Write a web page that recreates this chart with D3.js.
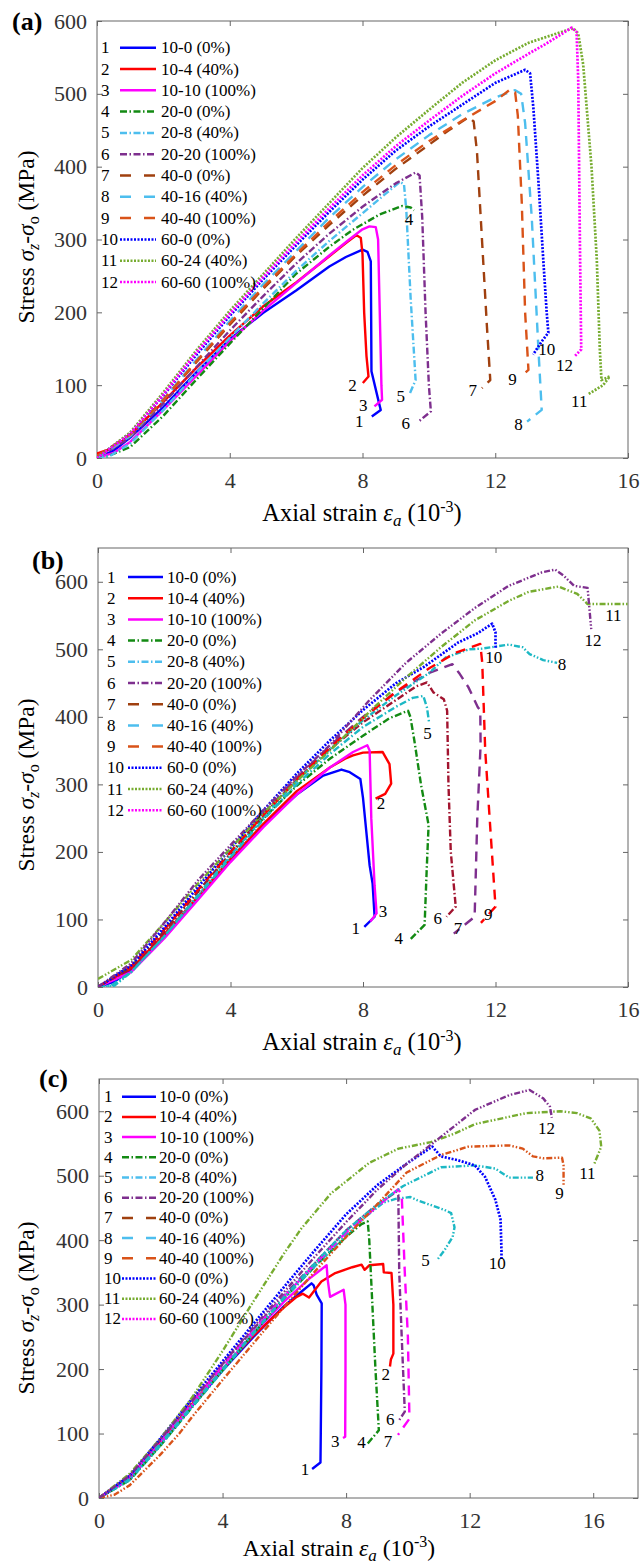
<!DOCTYPE html>
<html>
<head>
<meta charset="utf-8">
<script src="https://cdn.jsdelivr.net/npm/d3@7"></script>
<style>
  body { margin: 0; background: #fff; }
  svg text { font-family: "Liberation Serif", "Times New Roman", serif; }
</style>
</head>
<body>
<svg id="chart" width="641" height="1564"></svg>
<script>
// Stress-strain curves, three panels (a)(b)(c), 12 specimens each

const legendNames = ['10-0 (0%)', '10-4 (40%)', '10-10 (100%)', '20-0 (0%)', '20-8 (40%)', '20-20 (100%)',
  '40-0 (0%)', '40-16 (40%)', '40-40 (100%)', '60-0 (0%)', '60-24 (40%)', '60-60 (100%)'];
const xTicks = [0, 4, 8, 12, 16];
const yTicks = [0, 100, 200, 300, 400, 500, 600];

// panel (a): [axial strain (1e-3), stress (MPa)]
const seriesA = [
  [[0,0],[0.5,10],[1,28],[2,70],[3,118],[4,163],[5,199],[6,230],[7,263],[7.5,276],[8,286],[8.15,283],[8.25,270],[8.26,200],[8.27,119],[8.5,75],[8.55,66],[8.28,57]],
  [[0,6],[0.5,14],[1,32],[2,77],[3,124],[4,168],[5,208],[6,241],[7,277],[7.5,295],[7.82,306],[7.95,302],[8.0,280],[8.05,200],[8.12,140],[8.18,112],[8.01,103]],
  [[0,0],[0.5,7],[1,22],[2,66],[3,113],[4,160],[5,202],[6,240],[7,278],[7.6,300],[8,314],[8.21,318],[8.4,317],[8.47,300],[8.52,200],[8.57,100],[8.59,80],[8.36,71]],
  [[0,0],[0.3,2],[1,15],[2,58],[3,108],[4,157],[5,205],[6,253],[7,290],[7.7,313],[8.5,334],[9.19,346],[9.45,344],[9.55,340]],
  [[0,0],[0.4,3],[1,20],[2,66],[3,117],[4,165],[5,212],[6,257],[7,298],[8,336],[8.7,363],[9.13,379],[9.25,376],[9.32,340],[9.45,220],[9.6,107],[9.43,89]],
  [[0,0],[1,28],[2,75],[3,125],[4,175],[5,222],[6,267],[7,308],[8,345],[9,377],[9.6,392],[9.72,388],[9.8,330],[9.9,200],[10.0,100],[10.06,64],[9.69,50]],
  [[0,2],[1,32],[2,80],[3,132],[4,183],[5,232],[6,278],[7,320],[8,360],[9,397],[10,430],[10.6,450],[11.2,468],[11.35,462],[11.45,420],[11.6,300],[11.75,180],[11.85,107],[11.6,96]],
  [[0,0],[1,30],[2,80],[3,135],[4,188],[5,238],[6,284],[7,330],[8,372],[9,410],[10,443],[11,472],[12,495],[12.6,505],[12.78,500],[12.9,460],[13.1,330],[13.3,150],[13.4,66],[12.96,50]],
  [[0,3],[1,32],[2,80],[3,133],[4,185],[5,234],[6,280],[7,324],[8,365],[9,402],[10,435],[11,463],[12,490],[12.45,506],[12.6,502],[12.68,470],[12.8,350],[12.9,200],[13.0,121],[12.9,117]],
  [[0,0],[1,34],[2,86],[3,142],[4,195],[5,245],[6,292],[7,338],[8,382],[9,422],[10,455],[11,485],[12,515],[12.5,525],[12.9,533],[13.05,528],[13.15,480],[13.3,380],[13.45,270],[13.55,200],[13.6,172],[13.4,160],[13.14,142]],
  [[0,0],[1,35],[2,90],[3,148],[4,202],[5,252],[6,302],[7,350],[8,398],[9,440],[10,478],[11,515],[12,546],[13,570],[14,585],[14.35,590],[14.5,583],[14.65,540],[14.9,400],[15.06,272],[15.15,150],[15.2,107],[15.45,112],[15.25,100],[14.78,87]],
  [[0,0],[1,33],[2,87],[3,145],[4,198],[5,248],[6,296],[7,343],[8,388],[9,428],[10,463],[11,497],[12,528],[13,555],[13.5,568],[14,582],[14.3,591],[14.45,585],[14.5,520],[14.55,300],[14.59,149],[14.4,140]]
];

// panel (b)
const seriesB = [
  [[0,0],[0.5,8],[1,25],[2,75],[3,130],[4,188],[5,240],[6,285],[6.8,313],[7.35,322],[7.6,318],[7.92,308],[8.0,280],[8.1,230],[8.2,180],[8.29,153],[8.35,104],[8.04,89]],
  [[0,0],[1,27],[2,78],[3,133],[4,190],[5,242],[6,290],[7,325],[7.46,338],[7.7,343],[8.0,347],[8.59,348],[8.8,330],[8.85,301],[8.67,286],[8.38,279]],
  [[0,0],[1,22],[2,72],[3,128],[4,185],[5,237],[6,285],[7,325],[7.7,348],[8.13,358],[8.2,350],[8.25,250],[8.35,150],[8.41,109],[8.22,97]],
  [[0,0],[1,30],[2,83],[3,140],[4,197],[5,250],[6,298],[7,338],[8,372],[8.8,398],[9.36,409],[9.43,400],[9.55,365],[9.75,300],[9.98,240],[9.92,170],[9.86,92],[9.42,70]],
  [[0,0],[0.4,2],[1,22],[2,75],[3,133],[4,192],[5,248],[6,300],[7,345],[8,385],[9,415],[9.5,428],[9.82,431],[9.93,414],[10.0,390]],
  [[0,0],[1,28],[2,82],[3,140],[4,198],[5,255],[6,307],[7,352],[8,392],[9,425],[9.6,445],[9.93,451],[10.13,436],[10.44,426],[10.54,409],[10.58,300],[10.65,200],[10.8,119],[10.52,104]],
  [[0,0],[1,30],[2,85],[3,143],[4,200],[5,257],[6,310],[7,357],[8,400],[9,437],[10,465],[10.7,478],[10.9,465],[11.18,444],[11.47,414],[11.54,410],[11.55,358],[11.45,250],[11.37,104],[10.74,79]],
  [[0,0],[0.5,2],[1,22],[2,75],[3,135],[4,195],[5,252],[6,305],[7,352],[8,395],[9,432],[10,465],[10.5,488],[11.2,500],[11.59,501],[12.41,507],[12.82,503],[13.03,493],[13.44,484],[13.86,480]],
  [[0,0],[1,30],[2,85],[3,143],[4,200],[5,255],[6,307],[7,354],[8,398],[9,437],[10,472],[10.8,495],[11.54,508],[11.6,480],[11.69,350],[11.85,230],[12.0,119],[11.56,95]],
  [[0,0],[1,32],[2,88],[3,147],[4,205],[5,262],[6,316],[7,365],[8,410],[9,450],[9.84,474],[10.87,510],[11.47,524],[11.9,538],[12.0,525],[12.0,501]],
  [[0,12],[1,40],[2,95],[3,152],[4,205],[5,258],[6,305],[7,350],[8.29,412],[9.32,459],[10.35,503],[11.38,543],[12.41,572],[13,585],[13.9,593],[14.47,582],[14.78,567],[15.2,567],[16,567]],
  [[0,0],[1,35],[2,95],[3,157],[4,210],[5,262],[6,312],[7,358],[8.2,425],[9.3,480],[10.35,523],[11.4,562],[12.4,594],[13.4,614],[13.8,618],[14.06,609],[14.37,594],[14.78,591],[14.89,530]]
];

// panel (c)
const seriesC = [
  [[0,0],[1,30],[2,85],[3,142],[4,198],[5,250],[6,298],[6.5,318],[6.88,333],[6.95,330],[7.05,315],[7.21,302],[7.2,200],[7.18,100],[7.17,55],[6.9,45]],
  [[0,0],[1,32],[2,88],[3,145],[4,200],[5,252],[6,296],[6.4,312],[6.6,317],[6.8,311],[7.2,336],[7.65,349],[8.2,358],[8.5,362],[8.6,354],[8.75,361],[9.2,363],[9.22,350],[9.47,349],[9.53,300],[9.53,224],[9.45,215],[9.42,204]],
  [[0,0],[1,30],[2,85],[3,143],[4,200],[5,255],[6,305],[6.8,340],[7.37,361],[7.4,340],[7.48,312],[7.92,323],[7.98,300],[7.98,200],[7.97,95],[7.9,93]],
  [[0,0],[1,28],[2,82],[3,140],[4,198],[5,255],[6,310],[7,360],[8,405],[8.5,425],[8.7,429],[8.75,400],[8.85,300],[8.95,200],[9.06,105],[8.69,84]],
  [[0,0],[1,28],[2,82],[3,140],[4,197],[5,255],[6,310],[7,360],[8,408],[8.6,435],[9.2,458],[9.6,464],[10.08,467],[10.3,462],[11.18,447],[11.4,442],[11.51,420],[11.45,405],[11.18,384],[10.96,370]],
  [[0,0],[1,35],[2,92],[3,150],[4,207],[5,262],[6,315],[7,365],[8,415],[9,455],[9.63,475],[9.69,470],[9.72,350],[9.8,250],[9.9,134],[9.68,118]],
  [[0,0],[1,33],[2,90],[3,148],[4,205],[5,260],[6,313],[7,363],[8,412],[9,452],[9.69,479],[9.8,470],[9.9,350],[10.0,250],[10.05,123],[9.68,98]],
  [[0,0],[1,30],[2,85],[3,143],[4,200],[5,257],[6,312],[7,365],[8,415],[9,455],[9.85,484],[11.07,513],[12.17,516],[12.83,511],[13.28,497],[14.05,497]],
  [[0,0],[0.5,5],[1,20],[2,68],[2.6,100],[3,125],[4,183],[5,240],[6,297],[7,352],[8,405],[9,455],[9.96,505],[11.07,532],[11.95,545],[13.28,547],[13.72,542],[14.05,530],[14.38,527],[14.99,528],[15.04,516],[15.04,485]],
  [[0,0],[1,35],[2,93],[3,153],[4,212],[5,270],[6,328],[7,385],[8,440],[9,485],[10,520],[10.79,545],[11.07,530],[11.62,524],[12.17,516],[12.5,498],[12.83,463],[13.0,432],[13.03,384],[13.03,370]],
  [[0,0],[1,38],[2,93],[3,155],[4,228],[5,305],[6,380],[6.55,418],[7.5,472],[8.75,520],[9.7,542],[10.74,552],[11.5,565],[12.17,580],[13.83,597],[14.93,600],[15.48,597],[15.92,589],[16.2,570],[16.26,545],[16.04,519]],
  [[0,0],[1,35],[2,92],[3,150],[4,208],[5,265],[6,320],[7,375],[8,428],[9,478],[10,520],[10.85,552],[12.17,602],[13.28,625],[13.94,633],[14.38,620],[14.6,607],[14.66,590]]
];

// where the curve numbers sit, in data units
const labelsA = [[7.9,50],[7.7,100],[8.02,72],[9.4,327],[9.15,85],[9.3,47],[11.32,92],[12.7,46],[12.52,108],[13.55,149],[14.53,78],[14.09,127]];
const labelsB = [[7.78,87],[8.54,272],[8.6,112],[9.08,72],[9.95,375],[10.26,102],[10.87,87],[14.01,478],[11.78,108],[11.95,488],[15.56,550],[14.94,513]];
const labelsC = [[6.67,44],[9.28,191],[7.65,88],[8.5,86],[10.57,369],[9.43,122],[9.36,88],[14.27,501],[14.91,472],[12.89,364],[15.81,503],[14.49,573]];

const C = {
  blue: '#0000ff', red: '#ff0000', magenta: '#ff00ff', green: '#138a13', sky: '#4dbeee',
  purple: '#7e2f8e', brown: '#a0400f', orange: '#d95319', olive: '#77ac30', cyan: '#1cb8c4', maroon: '#a2142f'
};
const dashPatterns = {
  solid: null, dashdot: '7,2.5,1.5,2.5', dashdotdot: '6,2,1.5,2,1.5,2', longdash: '10,7', dotted: '2,1.5'
};

const legendColors = [C.blue, C.red, C.magenta, C.green, C.sky, C.purple, C.brown, C.sky, C.orange, C.blue, C.olive, C.magenta];
const legendDashes = ['solid','solid','solid','dashdot','dashdot','dashdot','longdash','longdash','longdash','dotted','dotted','dotted'];
const colorsB = [C.blue, C.red, C.magenta, C.green, C.cyan, C.maroon, C.purple, C.cyan, C.red, C.blue, C.olive, C.purple];
const dashesB = ['solid','solid','solid','dashdot','dashdot','dashdot','longdash','dashdotdot','longdash','dotted','dashdotdot','dashdotdot'];
const colorsC = [C.blue, C.red, C.magenta, C.green, C.cyan, C.purple, C.magenta, C.cyan, C.orange, C.blue, C.olive, C.purple];
const dashesC = ['solid','solid','solid','dashdot','dashdotdot','dashdot','longdash','dashdotdot','dashdotdot','dotted','dashdotdot','dashdotdot'];

const panels = [
  { id: 'a', tag: '(a)', left: 97, right: 628, top: 21, bottom: 458, xMax: 16, yMax: 600,
    data: seriesA, labels: labelsA, colors: legendColors, dashes: legendDashes,
    tagX: 12, tagY: 30, legNum: 101, legL1: 120, legL2: 156, legText: 161, legTop: 47.7, legStep: 21.3,
    xTitleX: 362, xTitleY: 521, xTitleSize: 24.5, yTitleY: 237 },
  { id: 'b', tag: '(b)', left: 98, right: 628, top: 548, bottom: 987, xMax: 16, yMax: 650,
    data: seriesB, labels: labelsB, colors: colorsB, dashes: dashesB,
    tagX: 32, tagY: 569, legNum: 107, legL1: 128, legL2: 163, legText: 167, legTop: 577, legStep: 21.2,
    xTitleX: 362, xTitleY: 1050, xTitleSize: 24.5, yTitleY: 785 },
  { id: 'c', tag: '(c)', left: 99, right: 638, top: 1079, bottom: 1498, xMax: 17.45, yMax: 650,
    data: seriesC, labels: labelsC, colors: colorsC, dashes: dashesC,
    tagX: 39, tagY: 1087, legNum: 104, legL1: 122, legL2: 156, legText: 159, legTop: 1096.7, legStep: 20.2,
    xTitleX: 339, xTitleY: 1556, xTitleSize: 23.5, yTitleY: 1308 }
];

const svg = d3.select('#chart');

function drawPanel(p) {
  const x = d3.scaleLinear().domain([0, p.xMax]).range([p.left, p.right]);
  const y = d3.scaleLinear().domain([0, p.yMax]).range([p.bottom, p.top]);
  const g = svg.append('g').attr('class', 'panel-' + p.id);

  const clipId = 'clip-' + p.id;
  svg.append('clipPath').attr('id', clipId)
    .append('rect')
    .attr('x', p.left).attr('y', p.top)
    .attr('width', p.right - p.left).attr('height', p.bottom - p.top);

  // axes, MATLAB style: inward ticks on all four sides
  const styleAxis = sel => {
    sel.select('.domain').remove();
    sel.selectAll('line').attr('stroke', '#666');
    sel.selectAll('text').attr('fill', '#333').style('font-size', '22px');
  };
  g.append('g').attr('transform', `translate(0,${p.bottom})`)
    .call(d3.axisBottom(x).tickValues(xTicks).tickSizeInner(-5).tickSizeOuter(0).tickPadding(14))
    .call(styleAxis);
  g.append('g').attr('transform', `translate(0,${p.top})`)
    .call(d3.axisTop(x).tickValues(xTicks).tickSizeInner(-5).tickSizeOuter(0).tickFormat(''))
    .call(styleAxis);
  g.append('g').attr('transform', `translate(${p.left},0)`)
    .call(d3.axisLeft(y).tickValues(yTicks).tickSizeInner(-5).tickSizeOuter(0).tickPadding(10))
    .call(styleAxis);
  g.append('g').attr('transform', `translate(${p.right},0)`)
    .call(d3.axisRight(y).tickValues(yTicks).tickSizeInner(-5).tickSizeOuter(0).tickFormat(''))
    .call(styleAxis);

  g.append('rect')
    .attr('x', p.left).attr('y', p.top)
    .attr('width', p.right - p.left).attr('height', p.bottom - p.top)
    .attr('fill', 'none').attr('stroke', '#666').attr('stroke-width', 1);

  // curves
  const line = d3.line().x(d => x(d[0])).y(d => y(d[1]));
  g.append('g').attr('clip-path', `url(#${clipId})`)
    .selectAll('path')
    .data(p.data)
    .join('path')
    .attr('d', line)
    .attr('fill', 'none')
    .attr('stroke', (d, i) => p.colors[i])
    .attr('stroke-width', (d, i) => p.dashes[i] === 'dotted' ? 2.7 : 2.4)
    .attr('stroke-dasharray', (d, i) => dashPatterns[p.dashes[i]])
    .attr('stroke-linejoin', 'round');

  // curve numbers
  g.selectAll('.curve-label')
    .data(p.labels)
    .join('text')
    .attr('class', 'curve-label')
    .attr('x', d => x(d[0]))
    .attr('y', d => y(d[1]))
    .attr('text-anchor', 'middle')
    .attr('dominant-baseline', 'central')
    .style('font-size', '17px')
    .attr('fill', '#000')
    .text((d, i) => i + 1);

  // legend (same samples in every panel)
  const leg = g.append('g');
  legendNames.forEach((name, i) => {
    const ry = p.legTop + i * p.legStep;
    leg.append('text').attr('x', p.legNum).attr('y', ry)
      .attr('dominant-baseline', 'central').style('font-size', '17px').text(i + 1);
    leg.append('line').attr('x1', p.legL1).attr('x2', p.legL2).attr('y1', ry).attr('y2', ry)
      .attr('stroke', legendColors[i]).attr('stroke-width', 2.5)
      .attr('stroke-dasharray', legendDashes[i] === 'longdash' ? '11,13' : dashPatterns[legendDashes[i]]);
    leg.append('text').attr('x', p.legText).attr('y', ry)
      .attr('dominant-baseline', 'central').style('font-size', '17px').text(name);
  });

  // panel tag
  g.append('text').attr('x', p.tagX).attr('y', p.tagY)
    .style('font-size', '26px').style('font-weight', 'bold').text(p.tag);

  // x title
  const xt = g.append('text').attr('x', p.xTitleX).attr('y', p.xTitleY)
    .attr('text-anchor', 'middle').style('font-size', p.xTitleSize + 'px').attr('fill', '#000');
  xt.append('tspan').text('Axial strain ');
  xt.append('tspan').style('font-style', 'italic').text('ε');
  xt.append('tspan').style('font-style', 'italic').style('font-size', '17px').attr('dy', 5).text('a');
  xt.append('tspan').attr('dy', -5).text(' (10');
  xt.append('tspan').style('font-size', '16px').attr('dy', -9).text('-3');
  xt.append('tspan').attr('dy', 9).text(')');

  // y title
  const yt = g.append('text')
    .attr('transform', `translate(34,${p.yTitleY}) rotate(-90)`)
    .attr('text-anchor', 'middle').style('font-size', '23.5px').attr('fill', '#000');
  yt.append('tspan').text('Stress ');
  yt.append('tspan').style('font-style', 'italic').text('σ');
  yt.append('tspan').style('font-style', 'italic').style('font-size', '16px').attr('dy', 5).text('z');
  yt.append('tspan').attr('dy', -5).text('-');
  yt.append('tspan').style('font-style', 'italic').text('σ');
  yt.append('tspan').style('font-size', '16px').attr('dy', 5).text('o');
  yt.append('tspan').attr('dy', -5).text(' (MPa)');
}

panels.forEach(drawPanel);
</script>
</body>
</html>
